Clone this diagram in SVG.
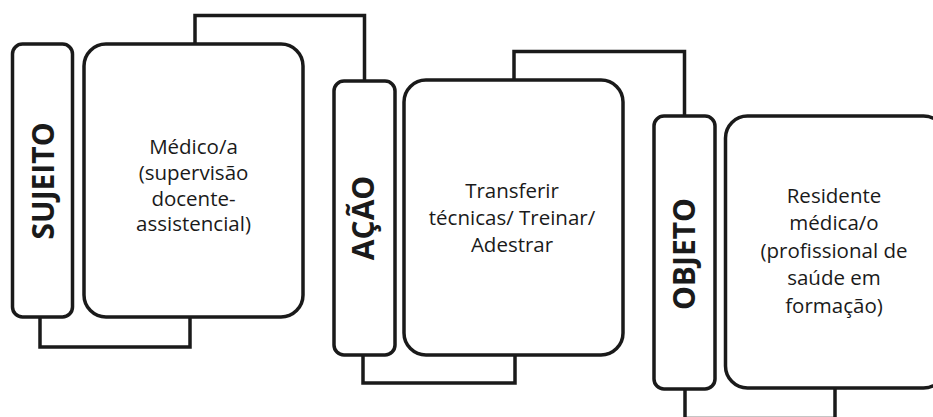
<svg xmlns="http://www.w3.org/2000/svg" width="933" height="417" viewBox="0 0 933 417">
<style>
.box{fill:#fff;stroke:#1a1a1a;stroke-width:3.5}
.con{fill:none;stroke:#1a1a1a;stroke-width:3.5;stroke-linejoin:miter}
.lbl{font-family:"Open Sans",sans-serif;font-weight:bold;font-size:30px;fill:#1a1a1a;text-anchor:middle}
.txt{font-family:"Open Sans",sans-serif;font-size:20.5px;fill:#1a1a1a;text-anchor:middle}
</style>
<rect width="933" height="417" fill="#fff"/>
<g id="connectors">
<polyline class="con" points="195,44 195,15.5 364.5,15.5 364.5,82"/>
<polyline class="con" points="40,317 40,347 190,347 190,317"/>
<polyline class="con" points="514,80 514,51.5 684.5,51.5 684.5,117"/>
<polyline class="con" points="363,355 363,383 515,383 515,355"/>
<polyline class="con" points="685,389 685,418.5 835,418.5 835,388"/>
</g>
<g id="sujeito">
<rect class="box" x="12.5" y="44" width="60" height="273" rx="10"/>
<text class="lbl" transform="translate(53.5,181) rotate(-90)">SUJEITO</text>
</g>
<g id="medico">
<rect class="box" x="84" y="44" width="219" height="273" rx="22"/>
<text class="txt" x="193.5" y="154">Médico/a</text>
<text class="txt" x="193.5" y="180">(supervisão</text>
<text class="txt" x="193.5" y="205.5">docente-</text>
<text class="txt" x="193.5" y="231">assistencial)</text>
</g>
<g id="acao">
<rect class="box" x="334" y="81" width="61" height="274" rx="10"/>
<text class="lbl" transform="translate(373.5,218) rotate(-90)">AÇÃO</text>
</g>
<g id="transferir">
<rect class="box" x="404" y="80" width="219" height="275" rx="22"/>
<text class="txt" x="512" y="198">Transferir</text>
<text class="txt" x="512" y="225">técnicas/ Treinar/</text>
<text class="txt" x="512" y="252">Adestrar</text>
</g>
<g id="objeto">
<rect class="box" x="654" y="116" width="61" height="273" rx="10"/>
<text class="lbl" transform="translate(694.5,254) rotate(-90)">OBJETO</text>
</g>
<g id="residente">
<rect class="box" x="725.5" y="116" width="220" height="272" rx="22"/>
<text class="txt" x="834" y="203">Residente</text>
<text class="txt" x="834" y="230">médica/o</text>
<text class="txt" x="834" y="258">(profissional de</text>
<text class="txt" x="834" y="285">saúde em</text>
<text class="txt" x="834" y="313">formação)</text>
</g>
</svg>
